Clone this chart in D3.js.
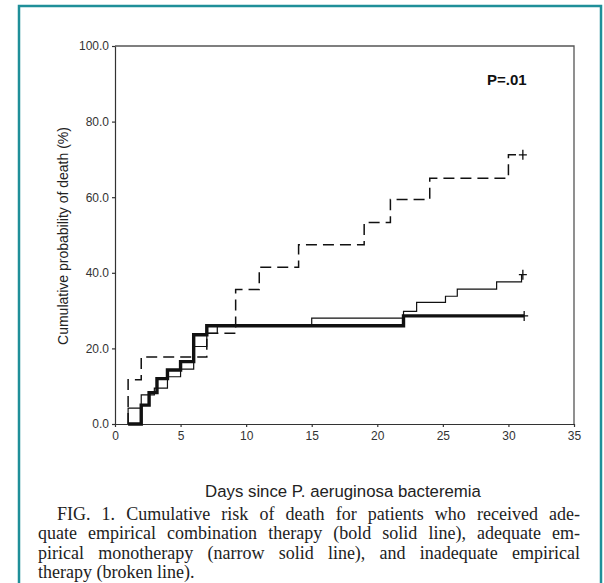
<!DOCTYPE html>
<html>
<head>
<meta charset="utf-8">
<script src="https://cdn.jsdelivr.net/npm/d3@7"></script>
<style>
  body { margin: 0; background: #fff; }
  svg { display: block; }
  .axis path, .axis line { stroke: #333; stroke-width: 1.2; }
  .axis text { font-family: "Liberation Sans", Arial, sans-serif; font-size: 12px; fill: #333; }
</style>
</head>
<body>
<div id="chart"></div>
<script>
// tick values
const xTicks = [0, 5, 10, 15, 20, 25, 30, 35];
const yTicks = [0, 20, 40, 60, 80, 100];

// adequate empirical combination therapy (bold solid)
const comboDays = [1, 2, 2.6, 3.2, 4, 5, 6, 7, 22, 31.2];
const comboRisk = [0, 5.0, 8.3, 12.0, 14.3, 16.5, 23.6, 26.0, 28.6, 28.6];

// adequate empirical monotherapy (narrow solid)
const monoDays = [1, 1, 2, 3, 4, 5, 6, 7, 7.8, 15, 22, 23, 25.2, 26.1, 29.1, 31, 31.1];
const monoRisk = [0, 4.2, 7.7, 9.5, 12.5, 14.5, 20.5, 24.0, 26.0, 28.0, 29.8, 32.2, 33.8, 35.7, 37.6, 39.5, 39.5];

// inadequate empirical therapy (broken)
const inadDays = [1, 1, 2, 7, 9.2, 11, 14, 19, 21, 24, 30, 31.1];
const inadRisk = [0, 11.7, 17.7, 24.0, 35.6, 41.5, 47.4, 53.3, 59.4, 65.0, 71.2, 71.2];

const captionLines = [
  "FIG. 1. Cumulative risk of death for patients who received ade-",
  "quate empirical combination therapy (bold solid line), adequate em-",
  "pirical monotherapy (narrow solid line), and inadequate empirical",
  "therapy (broken line)."
];

const W = 604, H = 583;
const margin = {top: 46, left: 115},
    width = 459,
    height = 378;

const root = d3.select('#chart')
    .append('svg')
    .attr('width', W)
    .attr('height', H);

// teal frame
root.append('rect')
    .attr('x', 19).attr('y', 6)
    .attr('width', 582).attr('height', 600)
    .attr('fill', 'none')
    .attr('stroke', '#1f8f99')
    .attr('stroke-width', 2.5);

const svg = root.append('g')
    .attr('transform', 'translate(' + margin.left + ',' + margin.top + ')');

const x = d3.scaleLinear().domain([0, 35]).range([0, width]);
const y = d3.scaleLinear().domain([0, 100]).range([height, 0]);

// box top + right
svg.append('path')
    .attr('d', 'M0,0H' + width + 'V' + height)
    .attr('fill', 'none')
    .attr('stroke', '#555')
    .attr('stroke-width', 1.3);

svg.append('g')
    .attr('class', 'axis')
    .call(d3.axisLeft(y).tickValues(yTicks).tickFormat(d3.format('.1f')).tickSize(3).tickSizeOuter(0));

svg.append('g')
    .attr('class', 'axis')
    .attr('transform', 'translate(0,' + height + ')')
    .call(d3.axisBottom(x).tickValues(xTicks).tickSize(3).tickSizeOuter(0).tickPadding(4));

const line = d3.line()
    .x(d => x(d[0]))
    .y(d => y(d[1]))
    .curve(d3.curveStepAfter);

const series = [
  {days: inadDays, risk: inadRisk, w: 1.5, dash: '11,6'},
  {days: monoDays, risk: monoRisk, w: 1.2, dash: null},
  {days: comboDays, risk: comboRisk, w: 3.4, dash: null}
];

series.forEach(s => {
  const pts = s.days.map((d, i) => [d, s.risk[i]]);
  svg.append('path')
      .datum(pts)
      .attr('d', line)
      .attr('fill', 'none')
      .attr('stroke', '#111')
      .attr('stroke-width', s.w)
      .attr('stroke-dasharray', s.dash);
  // censor mark at end of follow-up
  const last = pts[pts.length - 1];
  svg.append('path')
      .attr('d', 'M' + (x(last[0]) - 4) + ',' + y(last[1]) + 'h8M' + x(last[0]) + ',' + (y(last[1]) - 5) + 'v10')
      .attr('stroke', '#111')
      .attr('stroke-width', 1.3);
});

svg.append('text')
    .attr('x', 372).attr('y', 39)
    .attr('font-family', '"Liberation Sans", Arial, sans-serif')
    .attr('font-weight', 'bold')
    .attr('font-size', 15)
    .attr('fill', '#111')
    .text('P=.01');

// axis titles
root.append('text')
    .attr('transform', 'translate(68,236) rotate(-90)')
    .attr('text-anchor', 'middle')
    .attr('font-family', '"Liberation Sans", Arial, sans-serif')
    .attr('font-size', 14)
    .attr('fill', '#222')
    .text('Cumulative probability of death (%)');

root.append('text')
    .attr('x', 343).attr('y', 497)
    .attr('text-anchor', 'middle')
    .attr('font-family', '"Liberation Sans", Arial, sans-serif')
    .attr('font-size', 16.8)
    .attr('fill', '#222')
    .text('Days since P. aeruginosa bacteremia');

// caption, justified
const capX = [57, 38, 38, 38];
const capEnd = 580;
captionLines.forEach((t, i) => {
  const txt = root.append('text')
      .attr('x', capX[i])
      .attr('y', 520 + i * 19.3)
      .attr('font-family', '"Liberation Serif", "Times New Roman", serif')
      .attr('font-size', 18)
      .attr('fill', '#222')
      .text(t);
  if (i < captionLines.length - 1) {
    const natural = txt.node().getComputedTextLength();
    const spaces = t.split(' ').length - 1;
    txt.attr('word-spacing', (capEnd - capX[i] - natural) / spaces);
  }
});
</script>
</body>
</html>
